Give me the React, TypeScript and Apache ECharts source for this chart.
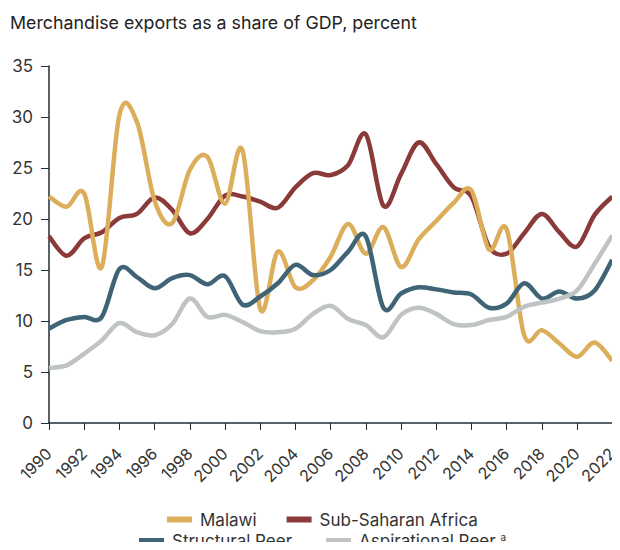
import React, { useEffect, useRef } from "react";
import * as echarts from "echarts";

const years = Array.from({ length: 33 }, (_, i) => String(1990 + i));

const malawi = [22.2, 21.2, 22.5, 15.3, 30.2, 29.5, 21.8, 19.6, 24.8, 26.1, 21.5, 26.7, 11.2, 16.8, 13.3, 14.0, 16.3, 19.5, 16.6, 19.2, 15.3, 18.0, 19.8, 21.6, 22.8, 17.0, 19.0, 8.6, 9.1, 7.8, 6.5, 7.9, 6.1];
const subSaharan = [18.3, 16.4, 18.1, 18.7, 20.1, 20.5, 22.1, 20.9, 18.6, 20.0, 22.3, 22.2, 21.7, 21.1, 23.1, 24.5, 24.3, 25.3, 28.3, 21.3, 24.4, 27.5, 25.4, 23.1, 22.2, 17.3, 16.6, 18.6, 20.5, 18.7, 17.3, 20.4, 22.2];
const structuralPeer = [9.25, 10.1, 10.4, 10.4, 15.1, 14.3, 13.2, 14.2, 14.5, 13.6, 14.4, 11.6, 12.4, 13.7, 15.5, 14.5, 15.0, 16.8, 18.3, 11.3, 12.7, 13.3, 13.1, 12.8, 12.6, 11.3, 11.7, 13.7, 12.2, 12.9, 12.2, 13.0, 16.0];
const aspirationalPeer = [5.4, 5.65, 6.8, 8.1, 9.8, 8.9, 8.6, 9.7, 12.2, 10.4, 10.6, 9.9, 9.0, 8.9, 9.25, 10.7, 11.5, 10.2, 9.6, 8.4, 10.6, 11.3, 10.7, 9.7, 9.6, 10.1, 10.4, 11.4, 11.8, 12.2, 13.0, 15.6, 18.4];

const seriesNames = ["Malawi", "Sub-Saharan Africa", "Structural Peer", "Aspirational Peer"];
const colors = ["#dcae5c", "#8b3a3a", "#3f6476", "#bfc3c4"];
const zOrder = [3, 2, 4, 5];

function catmullRomPath(pts: number[][]): string {
  let d = `M${pts[0][0]},${pts[0][1]}`;
  for (let i = 0; i < pts.length - 1; i++) {
    const p0 = pts[i - 1] || pts[i];
    const p1 = pts[i];
    const p2 = pts[i + 1];
    const p3 = pts[i + 2] || p2;
    const c1x = p1[0] + (p2[0] - p0[0]) / 6;
    const c1y = p1[1] + (p2[1] - p0[1]) / 6;
    const c2x = p2[0] - (p3[0] - p1[0]) / 6;
    const c2y = p2[1] - (p3[1] - p1[1]) / 6;
    d += ` C${c1x},${c1y} ${c2x},${c2y} ${p2[0]},${p2[1]}`;
  }
  return d;
}

export default function App() {
  const ref = useRef<HTMLDivElement>(null);
  useEffect(() => {
    if (!ref.current) return;
    const chart = echarts.init(ref.current, undefined, { renderer: "svg" });
    const font = "Inter, 'Noto Sans', sans-serif";
    const dataSets = [malawi, subSaharan, structuralPeer, aspirationalPeer];
    const legendCommon = {
      itemWidth: 25,
      itemHeight: 6,
      icon: "rect",
    };
    chart.setOption({
      animation: false,
      textStyle: { fontFamily: font },
      title: {
        text: "Merchandise exports as a share of GDP, percent",
        left: 5,
        top: 8,
        textStyle: { fontFamily: font, fontSize: 17.8, fontWeight: "normal", color: "#222" },
      },
      grid: { left: 49, right: 3, top: 66, bottom: 127 },
      legend: [
        {
          ...legendCommon,
          data: ["Malawi", "Sub-Saharan Africa"],
          top: 506,
          left: 162,
          itemGap: 30,
          textStyle: { fontFamily: font, fontSize: 17, color: "#333", padding: [0, 0, 0, 3] },
        },
        {
          ...legendCommon,
          data: ["Structural Peer", "Aspirational Peer"],
          top: 527,
          left: 134,
          itemGap: 34,
          formatter: (name: string) => (name === "Aspirational Peer" ? name + " {sup|a}" : name),
          textStyle: {
            fontFamily: font,
            fontSize: 17,
            color: "#333",
            padding: [0, 0, 0, 3],
            rich: { sup: { fontSize: 10, verticalAlign: "top", color: "#333", padding: [0, 0, 8, 0] } },
          },
        },
      ],
      xAxis: {
        type: "category",
        data: years,
        boundaryGap: false,
        axisLine: { lineStyle: { color: "#1f2d36", width: 1.5 } },
        axisTick: { interval: 1, length: 7, lineStyle: { color: "#1f2d36" } },
        axisLabel: { interval: 1, rotate: 45, fontSize: 16, color: "#333", fontFamily: font, margin: 28 },
      },
      yAxis: {
        type: "value",
        min: 0,
        max: 35,
        interval: 5,
        splitLine: { show: false },
        axisLine: { show: true, lineStyle: { color: "#1f2d36", width: 1.5 } },
        axisTick: { show: true, length: 8, lineStyle: { color: "#1f2d36" } },
        axisLabel: { fontSize: 17, color: "#333", fontFamily: font, margin: 16 },
      },
      series: seriesNames.map((name, i) => {
        const values = dataSets[i];
        return {
          name,
          type: "custom",
          data: values.map((v, j) => [j, v]),
          encode: { x: 0, y: 1 },
          itemStyle: { color: colors[i] },
          z: zOrder[i],
          renderItem: (params: any, api: any) => {
            if (params.dataIndex !== 0) return null;
            const pts = values.map((v, j) => api.coord([j, v]));
            return {
              type: "path",
              shape: { pathData: catmullRomPath(pts) },
              style: { fill: "none", stroke: colors[i], lineWidth: 4.5, lineJoin: "round" },
              silent: true,
            };
          },
        };
      }),
    });
    return () => chart.dispose();
  }, []);
  return <div ref={ref} style={{ width: 620, height: 550, margin: -8 }} />;
}
